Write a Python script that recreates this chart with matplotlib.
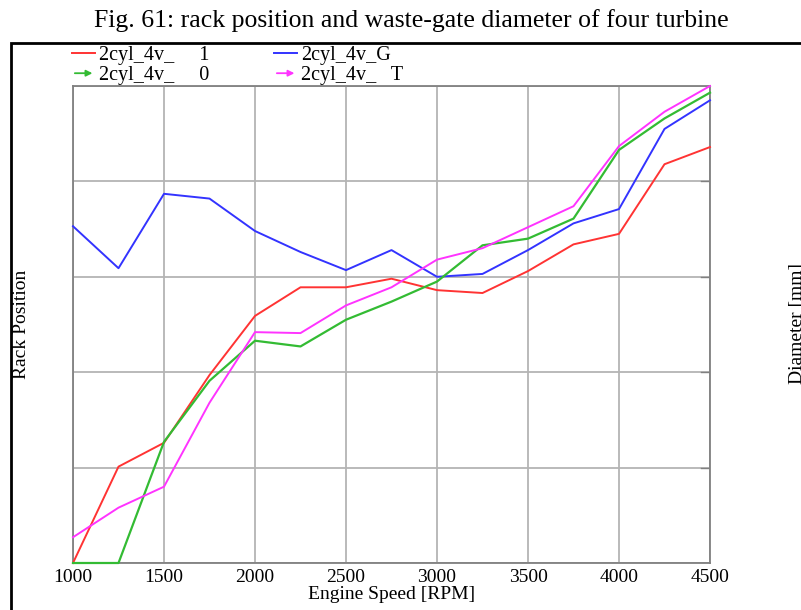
import matplotlib
matplotlib.use("Agg")
import matplotlib.pyplot as plt
from matplotlib.lines import Line2D
from matplotlib.patches import FancyArrowPatch, Rectangle
from matplotlib.legend_handler import HandlerBase

plt.rcParams['font.family'] = ['Liberation Serif', 'DejaVu Serif']

rpm = [1000, 1250, 1500, 1750, 2000, 2250, 2500, 2750, 3000, 3250, 3500, 3750, 4000, 4250, 4500]

# rack position (unlabelled scale)
red = [0.0, 1.01, 1.26, 1.97, 2.59, 2.89, 2.89, 2.98, 2.86, 2.83, 3.06, 3.34, 3.45, 4.18, 4.36]
blue = [3.53, 3.09, 3.87, 3.82, 3.48, 3.26, 3.07, 3.28, 3.00, 3.03, 3.28, 3.56, 3.71, 4.55, 4.85]
green = [0.0, 0.0, 1.27, 1.91, 2.33, 2.27, 2.55, 2.74, 2.95, 3.33, 3.40, 3.61, 4.33, 4.66, 4.93]
magenta = [0.27, 0.58, 0.80, 1.68, 2.42, 2.41, 2.70, 2.89, 3.18, 3.30, 3.52, 3.74, 4.37, 4.73, 5.0]

names = ['2cyl_4v_     1', '2cyl_4v_     0', '2cyl_4v_G', '2cyl_4v_   T']
xticks = [1000, 1500, 2000, 2500, 3000, 3500, 4000, 4500]


class ArrowHandler(HandlerBase):
    def create_artists(self, legend, orig, xd, yd, w, h, fontsize, trans):
        a = FancyArrowPatch((xd, yd + h / 2), (xd + w, yd + h / 2),
                            arrowstyle='-|>', mutation_scale=9,
                            color=orig.get_color(), lw=1.3, transform=trans)
        return [a]


fig = plt.figure(figsize=(8.01, 6.10), dpi=100)
ax = fig.add_axes([73 / 801, 47 / 610, (710 - 73) / 801, (563 - 86) / 610])

c_red, c_blue, c_green, c_mag = '#ff3333', '#3333ff', '#33bb33', '#ff33ff'
ax.plot(rpm, red, color=c_red, lw=1.4, clip_on=False, zorder=3)
ax.plot(rpm, blue, color=c_blue, lw=1.4, clip_on=False, zorder=3)
ax.plot(rpm, green, color=c_green, lw=1.6, clip_on=False, zorder=3)
ax.plot(rpm, magenta, color=c_mag, lw=1.4, clip_on=False, zorder=3)

ax.set_xlim(1000, 4500)
ax.set_ylim(0, 5)
ax.set_xticks(xticks)
ax.set_yticks([0, 1, 2, 3, 4, 5])
ax.set_yticklabels([])
ax.grid(True, color='#b4b4b4', lw=1.3)
ax.set_axisbelow(True)
ax.tick_params(axis='x', length=0, labelsize=14, pad=4)
ax.tick_params(axis='y', length=0)
for s in ax.spines.values():
    s.set_color('#808080')
    s.set_linewidth(1.3)
ax.set_xlabel('Engine Speed [RPM]', fontsize=14, labelpad=0)

# right-hand small inward ticks
for yv in [1, 2, 3, 4]:
    ax.plot([4450, 4500], [yv, yv], color='#808080', lw=1.0)

fig.text(22 / 801, 1 - 324 / 610, 'Rack Position', rotation=90, fontsize=14,
         ha='center', va='center')
fig.text(789 / 801, 1 - 324 / 610, 'Diameter [mm]', rotation=90, fontsize=14,
         ha='left', va='center')
fig.text(411 / 801, 1 - 21 / 610,
         'Fig. 61: rack position and waste-gate diameter of four turbine',
         fontsize=18.5, ha='center', va='center')

# outer frame
fig.patches.append(Rectangle((11 / 801, -0.1), 1.2, 1.1 - 43 / 610, transform=fig.transFigure,
                             fill=False, edgecolor='black', lw=2))

handles = [Line2D([], [], color=c_red, lw=1.4), Line2D([], [], color=c_green, lw=1.4),
           Line2D([], [], color=c_blue, lw=1.4), Line2D([], [], color=c_mag, lw=1.4)]
hmap = {handles[1]: ArrowHandler(), handles[3]: ArrowHandler()}
leg = fig.legend(handles, names, loc='upper left', bbox_to_anchor=(64 / 801, 1 - 38 / 610),
                 ncol=2, frameon=False, fontsize=14.5, handlelength=1.15, handletextpad=0.2,
                 columnspacing=3.2, labelspacing=0.05, borderaxespad=0.0, handler_map=hmap)

fig.savefig('out.png', dpi=100)
